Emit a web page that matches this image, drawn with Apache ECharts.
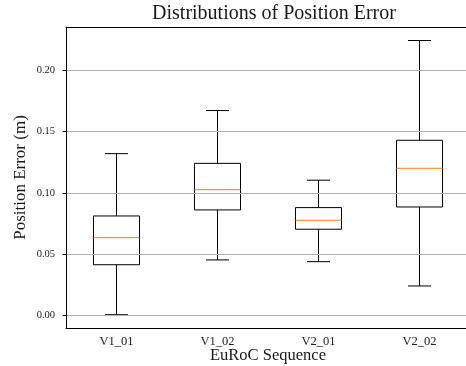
<!doctype html>
<html lang="en">
<head>
    <meta charset="UTF-8">
    <title>Distributions of Position Error</title>
    <script src="https://cdn.jsdelivr.net/npm/echarts@6/dist/echarts.min.js"></script>
    <style>
        html, body { margin: 0; padding: 0; background: #fff; }
        #chart { width: 466px; height: 366px; }
    </style>
</head>
<body>
<div id="chart"></div>
<script type="text/javascript">
    // sequences and box stats
    const sequences = ['V1_01', 'V1_02', 'V2_01', 'V2_02'];
    const whiskerLow = [0.0008, 0.0454, 0.0440, 0.0242];
    const q1 = [0.0415, 0.0861, 0.0704, 0.0885];
    const median = [0.0635, 0.1026, 0.0777, 0.1200];
    const q3 = [0.0812, 0.1240, 0.0880, 0.1428];
    const whiskerHigh = [0.1319, 0.1670, 0.1103, 0.2240];

    const serif = '"Liberation Serif", "DejaVu Serif", serif';

    let boxData = [];
    for (let i = 0; i < sequences.length; i++) {
        boxData.push([i, whiskerLow[i], q1[i], median[i], q3[i], whiskerHigh[i]]);
    }

    function renderBox(params, api) {
        let i = api.value(0);
        let pLow = api.coord([i, api.value(1)]);
        let pQ1 = api.coord([i, api.value(2)]);
        let pMed = api.coord([i, api.value(3)]);
        let pQ3 = api.coord([i, api.value(4)]);
        let pHigh = api.coord([i, api.value(5)]);
        let band = api.size([1, 0])[0];
        let half = band * 0.228;
        let cap = half / 2;
        let cx = pMed[0];
        let black = {stroke: '#000', lineWidth: 1, fill: null};
        return {
            type: 'group',
            children: [
                {type: 'line', shape: {x1: cx, y1: pQ1[1], x2: cx, y2: pLow[1]}, style: black},
                {type: 'line', shape: {x1: cx, y1: pQ3[1], x2: cx, y2: pHigh[1]}, style: black},
                {type: 'line', shape: {x1: cx - cap, y1: pLow[1], x2: cx + cap, y2: pLow[1]}, style: black},
                {type: 'line', shape: {x1: cx - cap, y1: pHigh[1], x2: cx + cap, y2: pHigh[1]}, style: black},
                {type: 'rect', shape: {x: cx - half, y: pQ3[1], width: half * 2, height: pQ1[1] - pQ3[1]},
                    style: {stroke: '#000', lineWidth: 1, fill: 'rgba(0,0,0,0)'}},
                {type: 'line', shape: {x1: cx - half, y1: pMed[1], x2: cx + half, y2: pMed[1]},
                    style: {stroke: '#ff7f0e', lineWidth: 1}}
            ]
        };
    }

    let chart = echarts.init(document.getElementById('chart'));
    chart.setOption({
        animation: false,
        textStyle: {fontFamily: serif},
        title: {
            text: 'Distributions of Position Error',
            left: 269,
            top: -1,
            textAlign: 'center',
            textStyle: {fontFamily: serif, fontWeight: 'normal', fontSize: 20, color: '#1a1a1a'}
        },
        grid: {left: 66, right: -4, top: 27, bottom: 38, containLabel: false, outerBoundsMode: 'none'},
        xAxis: [{
            type: 'category',
            data: sequences,
            boundaryGap: true,
            z: 5,
            name: 'EuRoC Sequence',
            nameLocation: 'middle',
            nameGap: 19.5,
            nameMoveOverlap: false,
            nameTextStyle: {fontFamily: serif, fontSize: 16.5, color: '#1a1a1a'},
            axisLine: {onZero: false, lineStyle: {color: '#000', width: 1}},
            axisTick: {alignWithLabel: true, length: 3.5, lineStyle: {color: '#000'}},
            axisLabel: {fontFamily: serif, fontSize: 12.5, color: '#222', margin: 7},
            splitLine: {show: false}
        }, {
            type: 'category',
            data: sequences,
            position: 'top',
            z: 5,
            axisLine: {onZero: false, lineStyle: {color: '#000', width: 1}},
            axisTick: {show: false},
            axisLabel: {show: false},
            splitLine: {show: false}
        }],
        yAxis: {
            type: 'value',
            min: -0.01,
            max: 0.235,
            splitNumber: 5,
            z: 4,
            name: 'Position Error (m)',
            nameLocation: 'middle',
            nameGap: 37,
            nameMoveOverlap: false,
            nameTextStyle: {fontFamily: serif, fontSize: 17, color: '#1a1a1a'},
            axisLine: {show: true, onZero: false, lineStyle: {color: '#000', width: 1}},
            axisTick: {show: true, length: 3.5, lineStyle: {color: '#000'}},
            axisLabel: {
                fontFamily: serif, fontSize: 10.5, color: '#222', margin: 11,
                showMinLabel: false, showMaxLabel: false,
                formatter: function (v) {
                    let k = Math.round(v / 0.05);
                    if (Math.abs(v - k * 0.05) > 1e-6) return '';
                    return v.toFixed(2);
                }
            },
            splitLine: {show: true, lineStyle: {color: '#b0b0b0', width: 1}}
        },
        series: [{
            type: 'custom',
            renderItem: renderBox,
            encode: {x: 0, y: [1, 2, 3, 4, 5]},
            data: boxData,
            z: 3
        }]
    });
</script>
</body>
</html>
